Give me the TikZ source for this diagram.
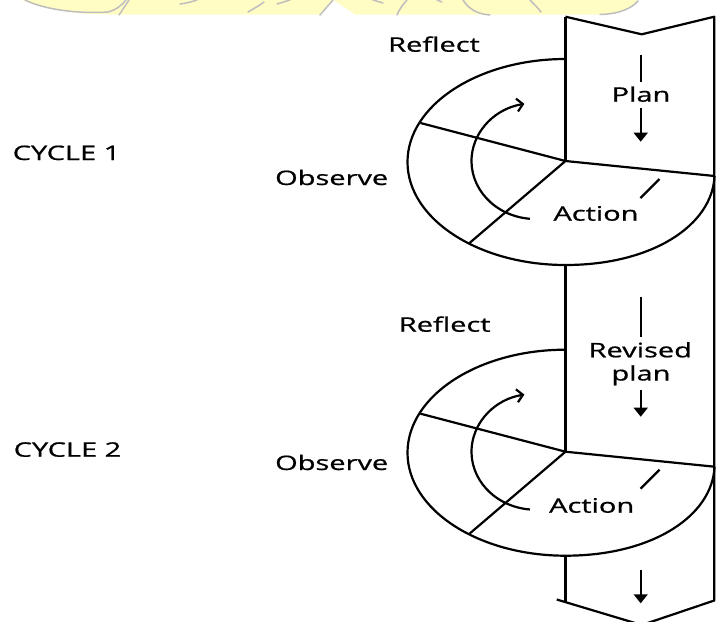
\documentclass[tikz,border=0pt]{standalone}
\usepackage{fontspec}
\setmainfont{Open Sans}
\newfontfamily\lblfont[FakeBold=0.7]{Open Sans}
\usepackage{graphicx}
\usetikzlibrary{arrows.meta,calc}
\definecolor{wmyellow}{RGB}{255,252,196}
\definecolor{wmgrey}{RGB}{190,190,190}
\newcommand\sx[1]{\scalebox{1.45}[1]{#1}}
\begin{document}
\begin{tikzpicture}[x=1pt,y=-1pt,
  lbl/.style={inner sep=0pt,anchor=base,font=\lblfont\fontsize{20}{24}\selectfont},
  edge/.style={line width=2.2pt,line join=round},
  bandleft/.style={line width=3.6pt},
  shaft/.style={line width=1.6pt},
  headed/.style={shaft,-{Triangle[length=9pt,width=14pt]}},
  turn/.style={line width=2.2pt,-{Straight Barb[length=6pt,width=13pt]}},
  wm/.style={draw=wmgrey,line width=1.5pt,line cap=round}]
\useasboundingbox (0,0) rectangle (716,622);

% watermark strip at the top
\fill[wmyellow] (22,0) .. controls (40,8) and (70,14.5) .. (110,14.5) -- (600,14.5) .. controls (620,14) and (632,8) .. (638,0) -- cycle;
\fill[white] (320,15) -- (333,0) -- (356,15) -- cycle;
\draw[wm] (25,0) .. controls (45,10) and (80,14) .. (108,12) .. controls (116,10) and (122,5) .. (126,0);
\draw[wm] (119,15) -- (129,0);
\draw[wm] (180,4) .. controls (188,3) and (194,1) .. (197,0);
\draw[wm] (248,12) .. controls (255,8) and (260,5) .. (264,2);
\draw[wm] (277,4) -- (290,0);
\draw[wm] (320,15) -- (333,0);
\draw[wm] (373,0) -- (383,3);
\draw[wm] (397,15) .. controls (400,8) and (404,3) .. (407,0);
\draw[wm] (437,0) -- (442,2);
\draw[wm] (463,0) .. controls (468,8) and (476,14) .. (490,15);
\draw[wm] (530,0) .. controls (534,4) and (538,8) .. (541,12);
\draw[wm] (600,14.5) .. controls (620,14) and (632,8) .. (638,1);

% band outline
\coordinate (btl) at (565.5,16.7);
\coordinate (bnotch) at (641.7,34.3);
\coordinate (btr) at (714.3,16.7);
\coordinate (bbr) at (714.3,600.5);
\coordinate (bpt) at (641.7,625);
\coordinate (bbl) at (556.7,599.5);
\draw[edge] (bbl) -- (bpt) -- (bbr) -- (btr) -- (bnotch) -- (btl);

% cycles
\foreach \cy/\n in {161/1,451.7/2}{
  \coordinate (J\n) at (565.5,\cy);
  \coordinate (E\n) at (565.5,\cy+1);
  \coordinate (A\n) at (535.5,\cy);
  \draw[edge] ($(E\n)+(0,-103)$) arc[start angle=90,end angle=270,x radius=158pt,y radius=103pt]
     .. controls ($(E\n)+(87,103)$) and ($(E\n)+(147,63)$) .. ($(E\n)+(149,14)$);
  \draw[edge] ($(J\n)+(-145,-38)$) -- (J\n) -- ($(J\n)+(-96,82)$);
  \draw[edge] (J\n) -- ($(J\n)+(149,15)$);
  \draw[turn] ([shift={(265:64pt and 58pt)}]A\n) arc[start angle=265,end angle=100,x radius=64pt,y radius=58pt];
  \draw[edge] ($(J\n)+(94,18)$) -- ($(J\n)+(75,37)$);
}

% thick left edge of the band
\draw[bandleft] (btl) -- (J1);
\draw[bandleft] (565.5,265) -- (J2);
\draw[bandleft] (565.5,555.7) -- (565.5,601.5);

% arrows in the band
\draw[shaft] (640.7,55) -- (640.7,81.7);
\draw[headed] (640.7,108) -- (640.7,141.7);
\draw[shaft] (640.7,296.7) -- (640.7,336.7);
\draw[headed] (640.7,390) -- (640.7,416.7);
\draw[headed] (640.7,570) -- (640.7,603.3);

% labels
\node[lbl] (c1) at (66.5,160) {\sx{CYCLE 1}};
\node[lbl] (c2) at (67.5,456.7) {\sx{CYCLE 2}};
\node[lbl] (o1) at (331.7,185) {\sx{Observe}};
\node[lbl] (o2) at (331.7,470) {\sx{Observe}};
\node[lbl] (r1) at (434,51.7) {\sx{Reflect}};
\node[lbl] (r2) at (444.7,331.7) {\sx{Reflect}};
\node[lbl] (p1) at (641,101.7) {\sx{Plan}};
\node[lbl] (p2a) at (640.3,357.3) {\sx{Revised}};
\node[lbl] (p2b) at (641,380.5) {\sx{plan}};
\node[lbl] (a1) at (596,220.7) {\sx{Action}};
\node[lbl] (a2) at (591.7,512.7) {\sx{Action}};
\end{tikzpicture}
\end{document}
